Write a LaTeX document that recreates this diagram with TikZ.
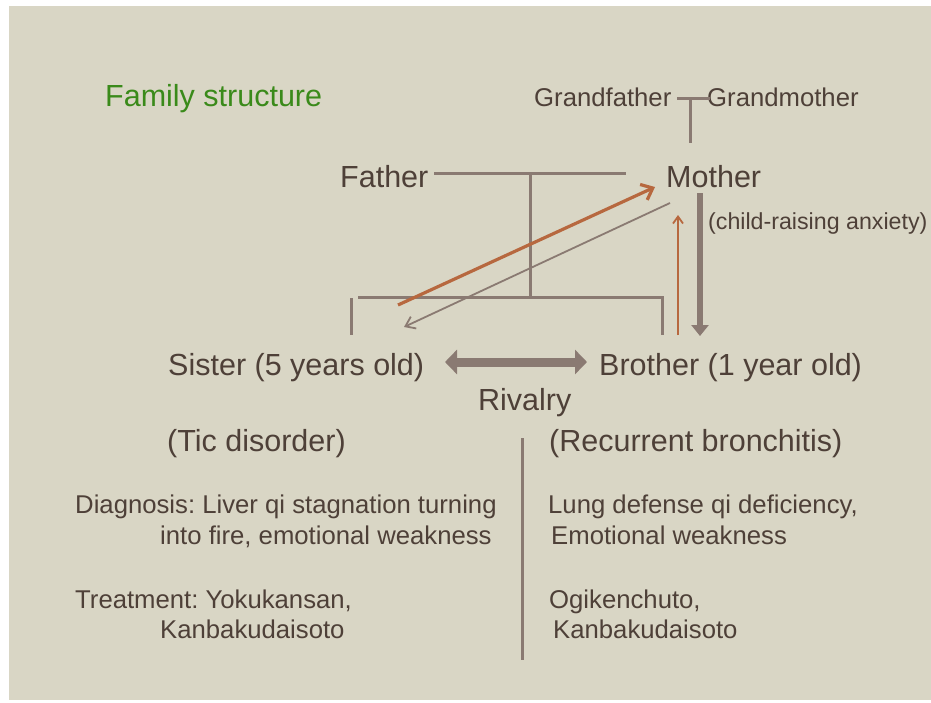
\documentclass[tikz,border=0pt]{standalone}
\usepackage{fontspec}
\setmainfont{Liberation Sans}
\usetikzlibrary{arrows.meta}
\definecolor{slidebg}{RGB}{217,214,197}
\definecolor{inkbrown}{RGB}{78,64,56}
\definecolor{treegray}{RGB}{138,122,114}
\definecolor{arrowrust}{RGB}{183,104,63}
\definecolor{titlegreen}{RGB}{58,138,26}
\frenchspacing

\begin{document}
\begin{tikzpicture}[x=1pt,y=-1pt,
    lbl/.style={anchor=base west,inner sep=0pt,text=inkbrown},
    big/.style={lbl,font=\fontsize{30.5}{36}\selectfont},
    mid/.style={lbl,font=\fontsize{25.7}{30}\selectfont},
    small/.style={lbl,font=\fontsize{23.2}{28}\selectfont},
    tree/.style={treegray,line width=3pt}]
        \useasboundingbox (0,0) rectangle (931,702);
        \fill[white] (0,0) rectangle (931,702);
        \fill[slidebg] (9,6) rectangle (931,700);
        % title and grandparents
        \node[big,text=titlegreen] (title) at (105,106) {Family structure};
        \node[mid] (gfather) at (534,106) {Grandfather};
        \node[mid] (gmother) at (707,106) {Grandmother};
        \coordinate (gtop) at (690,98);
        \draw[tree] (677,98) -- (710,98);
        \draw[tree] (gtop) -- (690,143);
        % parents
        \node[big] (father) at (340,187) {Father};
        \node[big] (mother) at (666,187) {Mother};
        \coordinate (fmmid) at (530,173);
        \coordinate (kids) at (530,297);
        \draw[tree] (434,173) -- (626,173);
        \draw[tree] (fmmid) -- (kids);
        \draw[tree] (358,297) -- (662,297) -- (662,335);
        \draw[tree] (351,298) -- (351,335);
        % children
        \node[big] (sister) at (168,375) {Sister (5 years old)};
        \node[big] (brother) at (599,375) {Brother (1 year old)};
        \node[big] (rivalry) at (478,410) {Rivalry};
        \node[small] (anxiety) at (708,229) {(child-raising anxiety)};
        % arrows between mother and children
        \coordinate (sisfrom) at (398,305);
        \coordinate (sisto) at (404,327);
        \coordinate (brofrom) at (678,335);
        \coordinate (brotop) at (700,193);
        \coordinate (brobot) at (700,336);
        \draw[arrowrust,line width=3.2pt,-{Straight Barb[length=10pt,width=17pt]}]
            (sisfrom) -- (655,187);
        \draw[treegray,line width=1.8pt,-{Straight Barb[length=9pt,width=13pt]}]
            (670,203) -- (sisto);
        \draw[arrowrust,line width=1.8pt,-{Straight Barb[length=7pt,width=10pt]}]
            (brofrom) -- (678,215);
        \draw[treegray,line width=5.5pt,-{Triangle[length=11pt,width=17pt]}]
            (brotop) -- (brobot);
        \draw[treegray,line width=9pt,{Triangle[length=12pt,width=24pt]}-{Triangle[length=12pt,width=24pt]}]
            (445,362) -- (587,362);
        % conditions
        \node[big] (tic) at (167,451) {(Tic disorder)};
        \node[big] (bronch) at (549,451) {(Recurrent bronchitis)};
        \draw[treegray,line width=3pt] (522,438) -- (522,660);
        \node[mid] (sisdiag) at (75,513) {Diagnosis: Liver qi stagnation turning};
        \node[mid] (sisdiagb) at (160,544) {into fire, emotional weakness};
        \node[mid] (sistreat) at (75,608) {Treatment: Yokukansan,};
        \node[mid] (sistreatb) at (160,638) {Kanbakudaisoto};
        \node[mid] (brodiag) at (548,513) {Lung defense qi deficiency,};
        \node[mid] (brodiagb) at (551,544) {Emotional weakness};
        \node[mid] (brotreat) at (549,608) {Ogikenchuto,};
        \node[mid] (brotreatb) at (553,638) {Kanbakudaisoto};
\end{tikzpicture}
\end{document}
